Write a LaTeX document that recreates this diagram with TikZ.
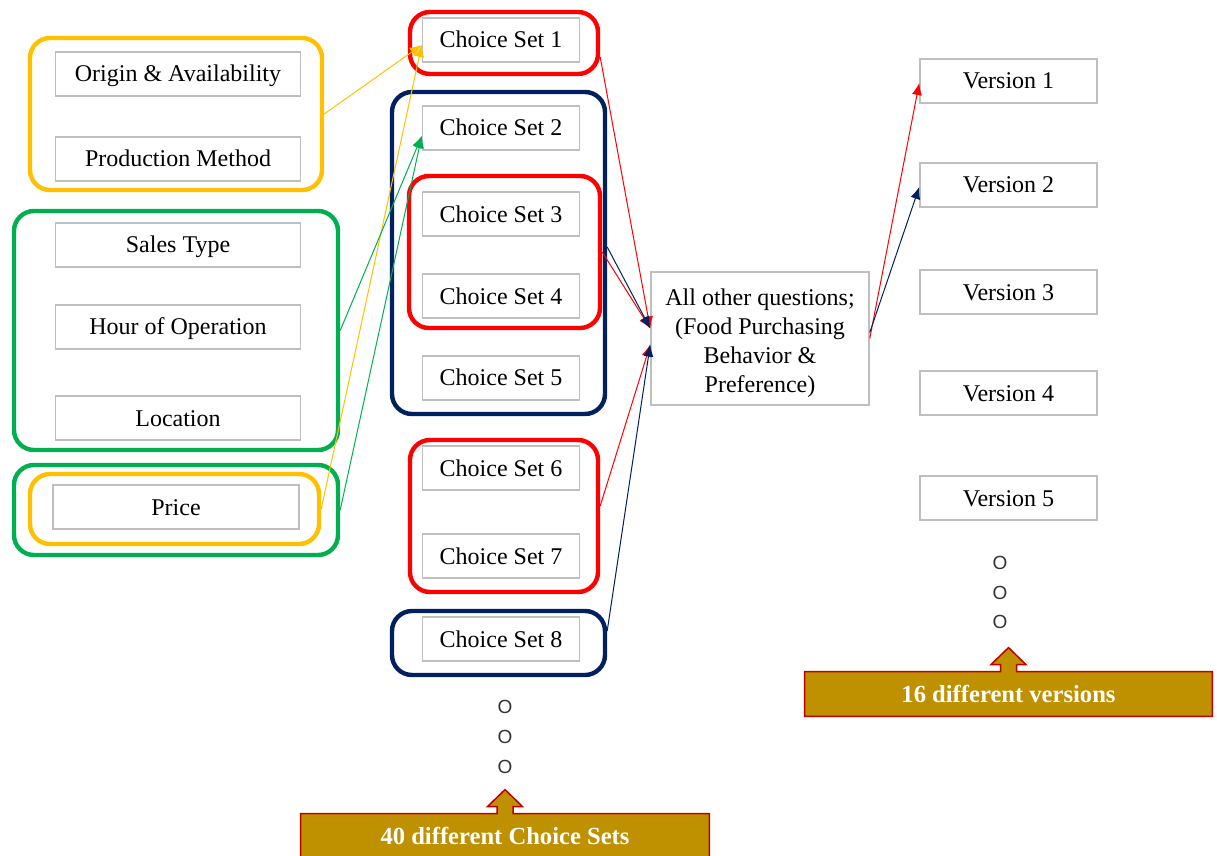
\documentclass[tikz,border=0pt]{standalone}
\usepackage{fontspec}
\setmainfont{Liberation Serif}
\setsansfont{Liberation Sans}
\usepackage{tikz}
\usetikzlibrary{arrows.meta,backgrounds,positioning}

\definecolor{ygold}{HTML}{FFC000}
\definecolor{sgreen}{HTML}{00B050}
\definecolor{navy}{HTML}{002060}
\definecolor{boxgray}{HTML}{BFBFBF}
\definecolor{callgold}{HTML}{BF9000}
\definecolor{callred}{HTML}{C00000}

\begin{document}
\begin{tikzpicture}[x=0.5pt,y=-0.5pt]
			\tikzstyle{Box}		= [draw=boxgray, line width=0.75pt, fill=white, minimum height=22pt, inner sep=0pt, font=\fontsize{12}{14.5}\selectfont]
			\tikzstyle{Line}	= [Box, text height=9pt, text depth=1pt]
			\tikzstyle{Attr}	= [Line, minimum width=122.5pt]
			\tikzstyle{Set}		= [Line, minimum width=78.5pt]
			\tikzstyle{Ver}		= [Line, minimum width=88.5pt]
			\tikzstyle{Group}	= [rounded corners=10pt, line width=2.2pt, inner sep=0pt]
			\tikzstyle{YG}		= [Group, draw=ygold]
			\tikzstyle{GG}		= [Group, draw=sgreen]
			\tikzstyle{RG}		= [Group, draw=red]
			\tikzstyle{NG}		= [Group, draw=navy]
			\tikzstyle{Dot}		= [inner sep=0pt, font=\sffamily\fontsize{9.5}{10}\selectfont, text=black!80]
			\tikzstyle{Callout}	= [minimum width=204pt, minimum height=22pt, inner sep=0pt, text=white, font=\bfseries\fontsize{12.3}{14}\selectfont]
			\tikzstyle{CallEdge}	= [fill=callgold, draw=callred, line width=0.75pt]
			\tikzstyle{Arr}		= [line width=0.5pt, -{Latex[length=6pt,width=5pt]}]
			\tikzstyle{YL}		= [ygold]
			\tikzstyle{GL}		= [sgreen]
			\tikzstyle{RL}		= [red]
			\tikzstyle{NL}		= [navy]

			\useasboundingbox (0,0) rectangle (1217,856);

			% groups
			\node (yel1) at (176,114) [YG, minimum width=146pt, minimum height=76pt] {};
			\node (grn1) at (176,330.5) [GG, minimum width=162pt, minimum height=119.5pt] {};
			\node (grn2) at (176,510) [GG, minimum width=162pt, minimum height=45pt] {};
			\node (yel2) at (174.5,509) [YG, minimum width=144.5pt, minimum height=35pt] {};
			\node (red1) at (504,43) [RG, minimum width=94pt, minimum height=31pt] {};
			\node (navy1) at (498.5,253) [NG, minimum width=106.5pt, minimum height=161pt] {};
			\node (red2) at (504.5,252) [RG, minimum width=95.5pt, minimum height=76pt] {};
			\node (red3) at (504,516) [RG, minimum width=94pt, minimum height=76pt] {};
			\node (navy2) at (498.5,643) [NG, minimum width=106.5pt, minimum height=32pt] {};

			% attributes
			\node (origin) at (178,74) [Attr] {Origin \& Availability};
			\node (prod) at (178,159) [Attr] {Production Method};
			\node (sales) at (178,245) [Attr] {Sales Type};
			\node (hour) at (178,327) [Attr] {Hour of Operation};
			\node (loc) at (178,418) [Attr] {Location};
			\node (price) at (176,507) [Attr, minimum width=123pt] {Price};

			% choice sets
			\node (cs1) at (501,40) [Set] {Choice Set 1};
			\node (cs2) at (501,128) [Set] {Choice Set 2};
			\node (cs3) at (501,214) [Set] {Choice Set 3};
			\node (cs4) at (501,296) [Set] {Choice Set 4};
			\node (cs5) at (501,378) [Set] {Choice Set 5};
			\node (cs6) at (501,468) [Set] {Choice Set 6};
			\node (cs7) at (501,556) [Set] {Choice Set 7};
			\node (cs8) at (501,639) [Set] {Choice Set 8};
			\node (dotCS1) at (505,707) [Dot] {O};
			\node (dotCS2) at (505,737) [Dot] {O};
			\node (dotCS3) at (505,767) [Dot] {O};

			% other questions
			\node (aoq) at (760,338.5) [Box, minimum width=109pt, minimum height=66.5pt, align=center] {\rule{0pt}{13pt}All other questions;\\(Food Purchasing\\Behavior \&\\Preference)};

			% versions
			\node (v1) at (1008.5,81) [Ver] {Version 1};
			\node (v2) at (1008.5,185) [Ver] {Version 2};
			\node (v3) at (1008.5,292) [Ver] {Version 3};
			\node (v4) at (1008.5,393) [Ver] {Version 4};
			\node (v5) at (1008.5,498) [Ver] {Version 5};
			\node (dotV1) at (1000,563) [Dot] {O};
			\node (dotV2) at (1000,593) [Dot] {O};
			\node (dotV3) at (1000,622) [Dot] {O};

			% callouts
			\node (callCS) at (505,836) [Callout] {40 different Choice Sets};
			\node (callV) at (1008.5,694) [Callout, minimum width=203.5pt] {16 different versions};
			\begin{scope}[on background layer]
				\filldraw [CallEdge] (callCS.north west) -- ([xshift=-4pt]callCS.north) -- ++(0,-7) -- ++(-9.5,0) -- ++(17.5,-17) -- ++(17.5,17) -- ++(-9.5,0) -- ++(0,7) -- (callCS.north east) -- (callCS.south east) -- (callCS.south west) -- cycle;
				\filldraw [CallEdge] (callV.north west) -- ([xshift=-4pt]callV.north) -- ++(0,-7) -- ++(-9.5,0) -- ++(17.5,-17) -- ++(17.5,17) -- ++(-9.5,0) -- ++(0,7) -- (callV.north east) -- (callV.south east) -- (callV.south west) -- cycle;
			\end{scope}

			\draw [Arr] (yel1.east) to ([yshift=-2.5pt]cs1.west) [YL];
			\draw [Arr] (yel2.east) to ([yshift=-2.5pt]cs1.west) [YL];
			\draw [Arr] (grn1.east) to ([yshift=-4pt]cs2.west) [GL];
			\draw [Arr] (grn2.east) to ([yshift=-4pt]cs2.west) [GL];
			\draw [Arr] ([yshift=-7pt]red1.east) to ([yshift=5pt]aoq.west) [RL];
			\draw [Arr] (red2.east) to ([yshift=5pt]aoq.west) [RL];
			\draw [Arr] ([yshift=3pt]navy1.east) to ([yshift=5pt]aoq.west) [NL];
			\draw [Arr] ([yshift=5pt]red3.east) to ([yshift=-3pt]aoq.west) [RL];
			\draw [Arr] ([yshift=6pt]navy2.east) to ([yshift=-3pt]aoq.west) [NL];
			\draw [Arr] (aoq.east) to ([yshift=-1pt]v1.west) [RL];
			\draw [Arr] ([yshift=3pt]aoq.east) to ([yshift=-1pt]v2.west) [NL];
		\end{tikzpicture}
\end{document}
